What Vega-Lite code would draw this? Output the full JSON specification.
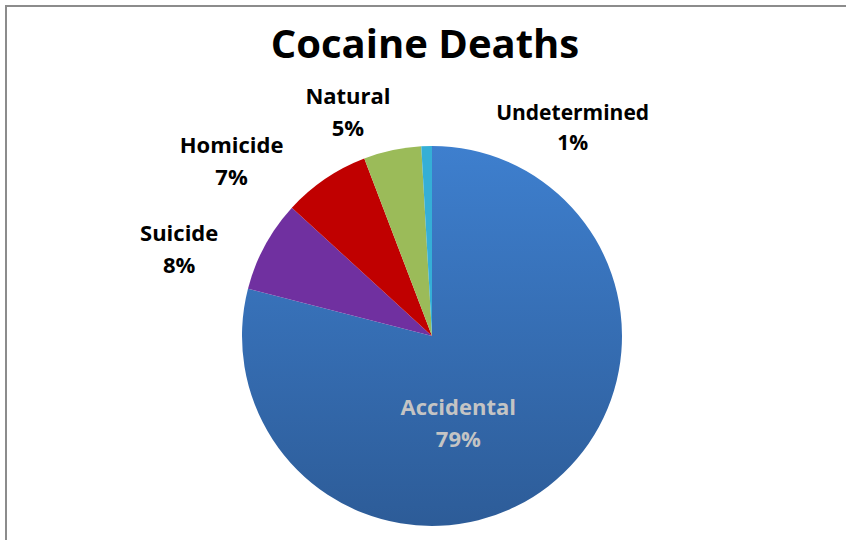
{
  "$schema": "https://vega.github.io/schema/vega-lite/v6.json",
  "autosize": "none",
  "padding": {"left": 6, "top": 6, "right": 0, "bottom": 0},
  "width": 852,
  "height": 660,
  "background": "white",
  "view": {"stroke": "#8c8c8c", "strokeWidth": 2, "fill": "white"},
  "title": {
    "text": "Cocaine Deaths",
    "font": "Open Sans",
    "fontSize": 40,
    "fontWeight": "bold",
    "color": "#000000",
    "anchor": "middle",
    "frame": "group",
    "baseline": "alphabetic",
    "offset": -50,
    "dx": -7,
    "dy": 42
  },
  "data": {
    "values": [
      {"category": "Accidental", "value": 79.0},
      {"category": "Suicide", "value": 7.8},
      {"category": "Homicide", "value": 7.4},
      {"category": "Natural", "value": 4.9},
      {"category": "Undetermined", "value": 0.9}
    ]
  },
  "transform": [
    {"window": [{"op": "row_number", "as": "idx"}]},
    {"stack": "value", "groupby": [], "sort": [{"field": "idx", "order": "ascending"}], "as": ["v0", "v1"]},
    {"calculate": "(datum.v0 + datum.v1) / 2", "as": "mid"},
    {"calculate": "[datum.category, format(datum.value / 100, '.0%')]", "as": "label"}
  ],
  "layer": [
    {
      "mark": {"type": "arc", "outerRadius": 190},
      "encoding": {
        "theta": {"field": "v0", "type": "quantitative", "scale": {"domain": [0, 100]}},
        "theta2": {"field": "v1"},
        "color": {
          "condition": {
            "test": "datum.category === 'Accidental'",
            "value": {"gradient": "linear", "x1": 0, "y1": 0, "x2": 0, "y2": 1, "stops": [{"offset": 0, "color": "#3e7fce"}, {"offset": 1, "color": "#2d5c98"}]}
          },
          "field": "category",
          "type": "nominal",
          "scale": {
            "domain": ["Accidental", "Suicide", "Homicide", "Natural", "Undetermined"],
            "range": ["#3a76c0", "#7030a0", "#c00000", "#9bbb59", "#35afd6"]
          },
          "legend": null
        }
      }
    },
    {
      "transform": [{"filter": "datum.category === 'Accidental'"}],
      "mark": {"type": "text", "radius": 100, "dx": -35, "dy": -7, "font": "Open Sans", "fontSize": 22, "fontWeight": "bold", "lineHeight": 32, "color": "#c4c4c4", "align": "center", "baseline": "middle"},
      "encoding": {"theta": {"field": "mid", "type": "quantitative"}, "text": {"field": "label"}}
    },
    {
      "transform": [{"filter": "datum.category === 'Suicide'"}],
      "mark": {"type": "text", "radius": 225, "dx": -55, "dy": 5, "font": "Open Sans", "fontSize": 22, "fontWeight": "bold", "lineHeight": 32, "color": "#000000", "align": "center", "baseline": "middle"},
      "encoding": {"theta": {"field": "mid", "type": "quantitative"}, "text": {"field": "label"}}
    },
    {
      "transform": [{"filter": "datum.category === 'Homicide'"}],
      "mark": {"type": "text", "radius": 225, "dx": -74, "dy": -4, "font": "Open Sans", "fontSize": 22, "fontWeight": "bold", "lineHeight": 32, "color": "#000000", "align": "center", "baseline": "middle"},
      "encoding": {"theta": {"field": "mid", "type": "quantitative"}, "text": {"field": "label"}}
    },
    {
      "transform": [{"filter": "datum.category === 'Natural'"}],
      "mark": {"type": "text", "radius": 225, "dx": -37, "dy": -19, "font": "Open Sans", "fontSize": 22, "fontWeight": "bold", "lineHeight": 32, "color": "#000000", "align": "center", "baseline": "middle"},
      "encoding": {"theta": {"field": "mid", "type": "quantitative"}, "text": {"field": "label"}}
    },
    {
      "transform": [{"filter": "datum.category === 'Undetermined'"}],
      "mark": {"type": "text", "radius": 225, "dx": 147, "dy": 3, "font": "Open Sans", "fontSize": 21, "fontWeight": "bold", "lineHeight": 30, "color": "#000000", "align": "center", "baseline": "middle"},
      "encoding": {"theta": {"field": "mid", "type": "quantitative"}, "text": {"field": "label"}}
    }
  ]
}
